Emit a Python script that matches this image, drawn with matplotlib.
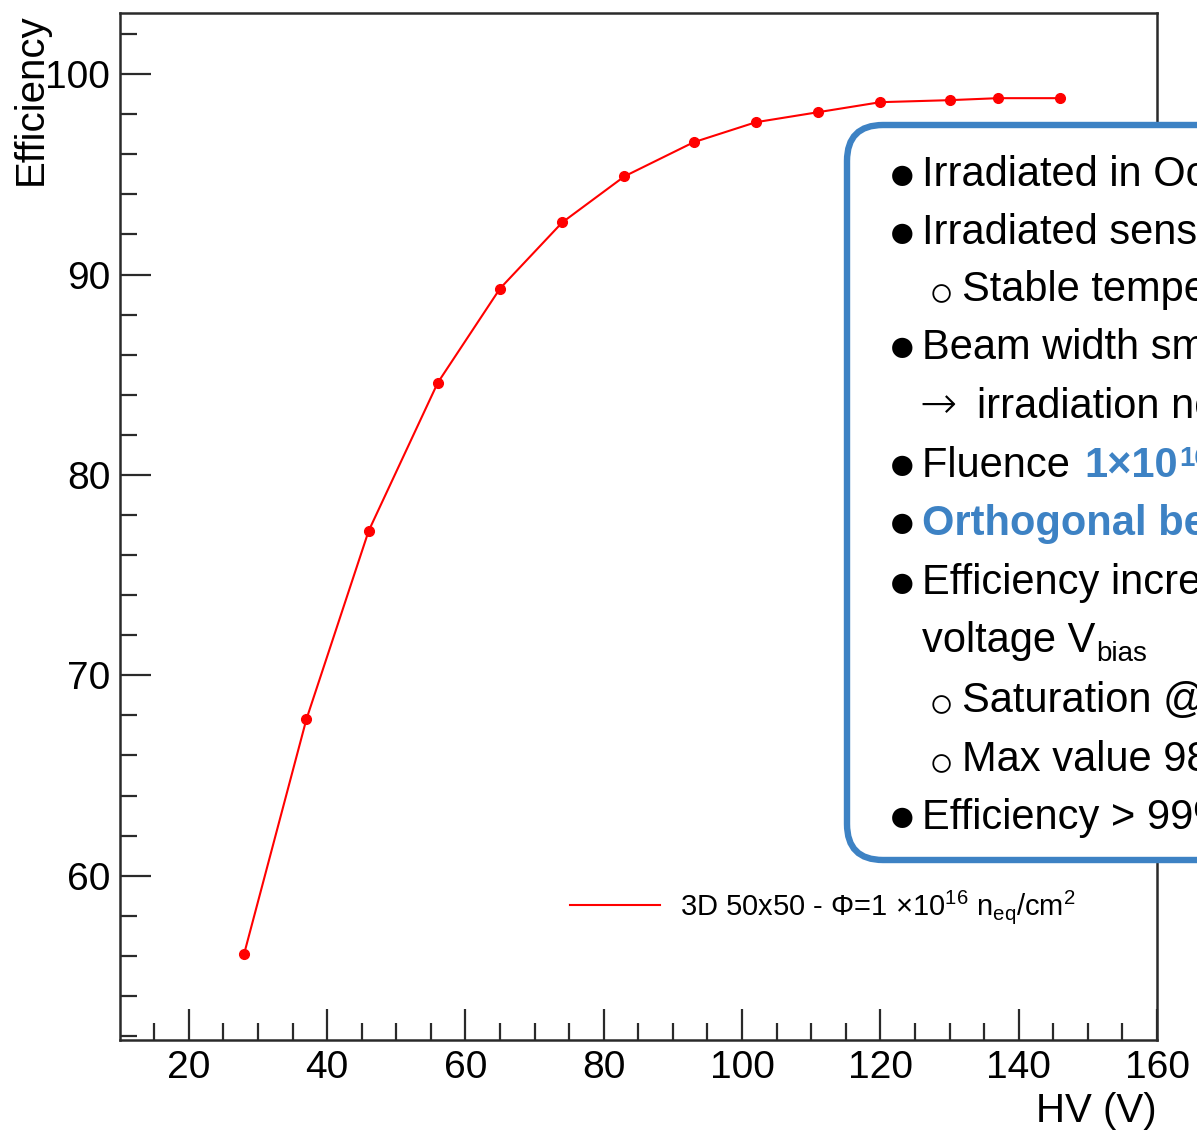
import matplotlib
matplotlib.use("Agg")
import matplotlib.pyplot as plt
from matplotlib.ticker import MultipleLocator
from matplotlib.patches import FancyBboxPatch
from matplotlib.lines import Line2D

# ---- measured efficiency vs bias voltage ----
hv_volts = [28, 37, 46, 56, 65, 74, 83, 93, 102, 111, 120, 130, 137, 146]
efficiency = [56.1, 67.8, 77.2, 84.6, 89.3, 92.6, 94.9, 96.6, 97.6, 98.1, 98.6, 98.7, 98.8, 98.8]
series_label = r"3D 50x50 - $\Phi$=1 $\times$10$^{16}$ n$_{\mathrm{eq}}$/cm$^{2}$"

x_major = [20, 40, 60, 80, 100, 120, 140, 160]
y_major = [60, 70, 80, 90, 100]
x_range = (10.05, 160)
y_range = (51.8, 103.05)

W, H, DPI = 1197, 1130, 100
FONT = ["Liberation Sans", "DejaVu Sans"]
BLUE = "#3d82c4"

plt.rcParams["font.family"] = FONT
plt.rcParams["mathtext.fontset"] = "custom"
plt.rcParams["mathtext.rm"] = "Liberation Sans"
plt.rcParams["mathtext.it"] = "Liberation Sans:italic"
plt.rcParams["mathtext.bf"] = "Liberation Sans:bold"

fig = plt.figure(figsize=(W / DPI, H / DPI), dpi=DPI)
fig.patch.set_facecolor("white")

# frame in pixel terms: left 120, right 1157, top 13, bottom 1040
ax = fig.add_axes([120 / W, 1 - 1040 / H, (1157 - 120) / W, (1040 - 13) / H])

line, = ax.plot(hv_volts, efficiency, color="#ff0000", lw=1.5,
                marker="o", ms=7, mec="#ff0000", mfc="#ff0000")

ax.set_xlim(*x_range)
ax.set_ylim(*y_range)
ax.set_xticks(x_major)
ax.set_yticks(y_major)
ax.xaxis.set_minor_locator(MultipleLocator(5))
ax.yaxis.set_minor_locator(MultipleLocator(2))
ax.tick_params(which="both", direction="in", top=False, right=False,
               width=1.6, color="#2a2a2a")
ax.tick_params(which="major", length=22, labelsize=28)
ax.tick_params(which="minor", length=12)
ax.tick_params(axis="x", which="major", pad=7.5)
ax.tick_params(axis="y", which="major", pad=7)
for sp in ax.spines.values():
    sp.set_linewidth(1.8)
    sp.set_color("#2a2a2a")

ax.set_xlabel("HV (V)", fontsize=29, loc="right")
ax.xaxis.set_label_coords(1.0, -0.051)
ax.set_ylabel("Efficiency", fontsize=29, loc="top")
ax.yaxis.set_label_coords(-0.068, 1.0)

handle = Line2D([], [], color=line.get_color(), lw=1.5)
ax.legend([handle], [series_label], loc="center left",
          bbox_to_anchor=((570 - 120) / 1037, (1040 - 907) / 1027),
          frameon=False, fontsize=21, handlelength=3.1, handletextpad=0.68,
          borderpad=0, borderaxespad=0)

# ---- information panel overlay (pixel coordinates) ----
ov = fig.add_axes([0, 0, 1, 1], zorder=5)
ov.set_xlim(0, W)
ov.set_ylim(H, 0)
ov.axis("off")
ov.patch.set_visible(False)

panel = FancyBboxPatch((847, 125), 520, 735,
                       boxstyle="round,pad=0,rounding_size=36",
                       fc="white", ec=BLUE, lw=4.6, clip_on=False)
ov.add_patch(panel)

FS = 30
TEXT_X = 922
SUB_X = 962
baselines = [186, 244, 301, 359, 418, 477, 535, 594, 652, 712, 771, 829]


def bullet(y, hollow=False):
    if hollow:
        ov.text(941.5, y + 5, "○", fontsize=30, ha="center", va="baseline",
                family=FONT, color="black")
    else:
        ov.text(902.5, y + 2.5, "●", fontsize=34, ha="center", va="baseline",
                family=FONT, color="black")


def chain(prev, s, dx=0, dy=0, **kw):
    return ov.annotate(s, xy=(1, 0), xycoords=prev, xytext=(dx, dy),
                       textcoords="offset points", ha="left", va="bottom",
                       annotation_clip=False, **kw)


def put(x, y, s, **kw):
    return ov.text(x, y, s, fontsize=kw.pop("fontsize", FS), ha="left",
                   va="baseline", **kw)


bullet(baselines[0])
put(TEXT_X, baselines[0], "Irradiated in October 2018")
bullet(baselines[1])
put(TEXT_X, baselines[1], "Irradiated sensors cooled")
bullet(baselines[2], hollow=True)
put(SUB_X, baselines[2], "Stable temperature")
bullet(baselines[3])
put(TEXT_X, baselines[3], "Beam width smaller than sensor")
put(TEXT_X - 3, baselines[4], "\u2192", family=["DejaVu Sans"], fontsize=32,
    fontweight="light")
put(977, baselines[4], "irradiation not uniform")
bullet(baselines[5])
t = put(TEXT_X, baselines[5], "Fluence ")
t = chain(t, "1\u00d710", dx=2, fontsize=FS, fontweight="bold", color=BLUE)
ov.annotate("16", xy=(1, 1), xycoords=t, xytext=(1, 0),
            textcoords="offset points", ha="left", va="top",
            fontsize=20, fontweight="bold", color=BLUE,
            annotation_clip=False)
bullet(baselines[6])
put(TEXT_X, baselines[6], "Orthogonal beam", fontweight="bold", color=BLUE)
bullet(baselines[7])
put(TEXT_X, baselines[7], "Efficiency increases with bias")
t = put(TEXT_X, baselines[8], "voltage V")
chain(t, "bias", dx=0.5, dy=-4.5, fontsize=20)
bullet(baselines[9], hollow=True)
put(SUB_X, baselines[9], "Saturation @ 120 V")
bullet(baselines[10], hollow=True)
put(SUB_X, baselines[10], "Max value 98.8%")
bullet(baselines[11])
put(TEXT_X, baselines[11], "Efficiency > 99% required")

fig.savefig("out.png", dpi=DPI, facecolor="white")
